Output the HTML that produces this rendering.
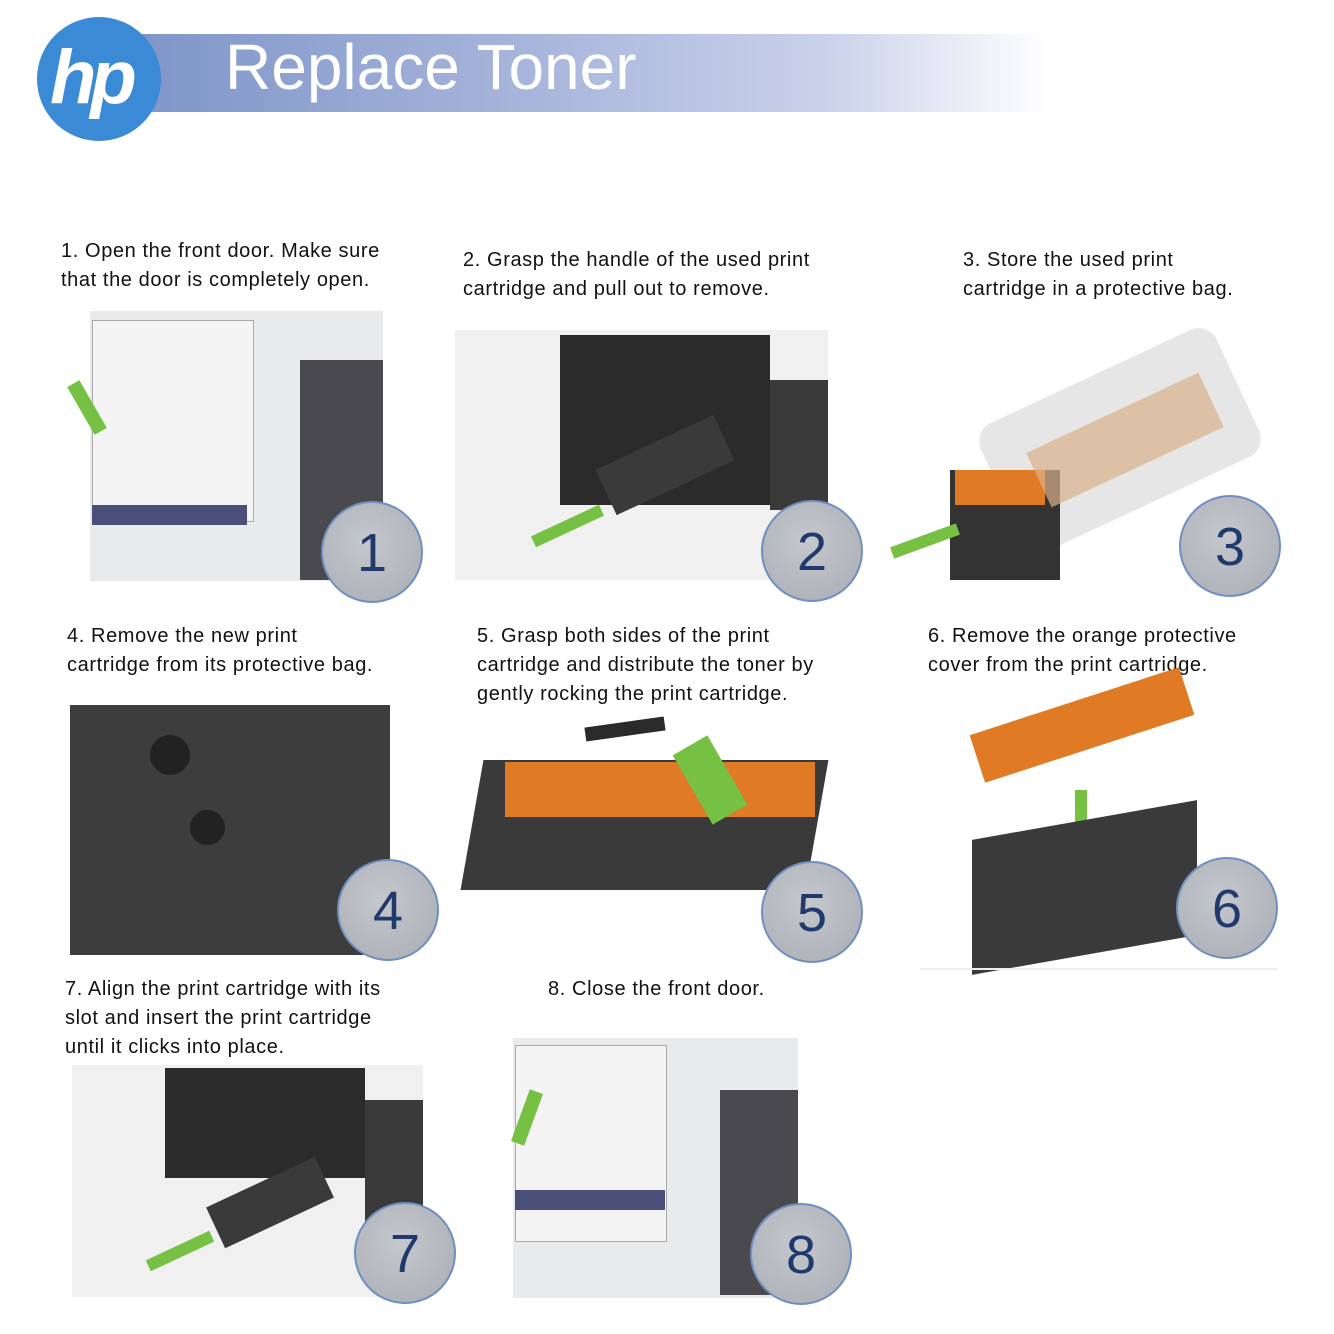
<!DOCTYPE html>
<html><head><meta charset="utf-8"><style>
body{margin:0;width:1334px;height:1334px;background:#fff;position:relative;overflow:hidden;font-family:"Liberation Sans",sans-serif}
.a{position:absolute}
.t{position:absolute;font-size:20px;letter-spacing:0.6px;line-height:29px;color:#111;white-space:nowrap}
.c{position:absolute;width:102px;height:102px;border-radius:50%;background:radial-gradient(circle at 45% 40%,#c4c7cc,#a9adb4);border:2px solid #6f8fc0;box-sizing:border-box;color:#1f3a6b;font-size:54px;text-align:center;line-height:100px}
</style></head><body>
<div class="a" style="left:140px;top:34px;width:910px;height:78px;background:linear-gradient(90deg,#7f96c8 0%,#a5b3da 40%,#c9d1ea 75%,#fff 100%)"></div>
<div class="a" style="left:225px;top:30px;font-size:64px;color:#fff;font-weight:normal">Replace Toner</div>
<div class="a" style="left:37px;top:17px;width:124px;height:124px;border-radius:50%;background:#3a8ad6"></div>
<div class="a" style="left:50px;top:34px;font-size:76px;color:#fff;font-style:italic;font-weight:bold;letter-spacing:-6px">hp</div>

<div class="t" style="left:61px;top:237px">1. Open the front door. Make sure<br>that the door is completely open.</div>
<div class="t" style="left:463px;top:246px">2. Grasp the handle of the used print<br>cartridge and pull out to remove.</div>
<div class="t" style="left:963px;top:246px">3. Store the used print<br>cartridge in a protective bag.</div>
<div class="t" style="left:67px;top:622px">4. Remove the new print<br>cartridge from its protective bag.</div>
<div class="t" style="left:477px;top:622px">5. Grasp both sides of the print<br>cartridge and distribute the toner by<br>gently rocking the print cartridge.</div>
<div class="t" style="left:928px;top:622px">6. Remove the orange protective<br>cover from the print cartridge.</div>
<div class="t" style="left:65px;top:975px">7. Align the print cartridge with its<br>slot and insert the print cartridge<br>until it clicks into place.</div>
<div class="t" style="left:548px;top:975px">8. Close the front door.</div>

<div class="a" style="left:90px;top:311px;width:293px;height:270px;background:#e9eaec"></div>
<div class="a" style="left:92px;top:320px;width:160px;height:200px;background:#f4f4f4;border:1px solid #aaa"></div>
<div class="a" style="left:300px;top:360px;width:83px;height:220px;background:#4a4a4e"></div>
<div class="a" style="left:92px;top:505px;width:155px;height:20px;background:#4a4f7a"></div>
<div class="a" style="left:80px;top:380px;width:14px;height:55px;background:#76c043;transform:rotate(-30deg)"></div>

<div class="a" style="left:455px;top:330px;width:373px;height:250px;background:#f0f0f0"></div>
<div class="a" style="left:560px;top:335px;width:210px;height:170px;background:#2b2b2b"></div>
<div class="a" style="left:770px;top:380px;width:58px;height:130px;background:#3a3a3a"></div>
<div class="a" style="left:600px;top:440px;width:130px;height:50px;background:#3a3a3a;transform:rotate(-25deg)"></div>
<div class="a" style="left:530px;top:520px;width:75px;height:12px;background:#76c043;transform:rotate(-25deg)"></div>

<div class="a" style="left:990px;top:370px;width:260px;height:140px;background:#e6e6e6;transform:rotate(-25deg);border-radius:20px"></div>
<div class="a" style="left:950px;top:470px;width:110px;height:110px;background:#333"></div>
<div class="a" style="left:955px;top:470px;width:90px;height:35px;background:#e07a25"></div>
<div class="a" style="left:1030px;top:410px;width:190px;height:60px;background:#d9b08a;transform:rotate(-25deg);opacity:.7"></div>
<div class="a" style="left:890px;top:535px;width:70px;height:12px;background:#76c043;transform:rotate(-20deg)"></div>

<div class="a" style="left:70px;top:705px;width:320px;height:250px;background:#3d3d3d"></div>
<div class="a" style="left:150px;top:735px;width:40px;height:40px;border-radius:50%;background:#222"></div>
<div class="a" style="left:190px;top:810px;width:35px;height:35px;border-radius:50%;background:#222"></div>

<div class="a" style="left:472px;top:760px;width:345px;height:130px;background:#3a3a3a;transform:skewX(-10deg)"></div>
<div class="a" style="left:505px;top:762px;width:310px;height:55px;background:#e07a25"></div>
<div class="a" style="left:585px;top:722px;width:80px;height:14px;background:#2a2a2a;transform:rotate(-8deg)"></div>
<div class="a" style="left:690px;top:740px;width:40px;height:80px;background:#76c043;transform:rotate(-30deg)"></div>

<div class="a" style="left:972px;top:700px;width:220px;height:50px;background:#e07a25;transform:rotate(-18deg)"></div>
<div class="a" style="left:1075px;top:790px;width:12px;height:40px;background:#76c043"></div>
<div class="a" style="left:972px;top:820px;width:225px;height:135px;background:#3a3a3a;transform:skewY(-10deg)"></div>
<div class="a" style="left:920px;top:968px;width:358px;height:2px;background:#eee"></div>

<div class="a" style="left:72px;top:1065px;width:351px;height:232px;background:#f0f0f0"></div>
<div class="a" style="left:165px;top:1068px;width:200px;height:110px;background:#2b2b2b"></div>
<div class="a" style="left:365px;top:1100px;width:58px;height:130px;background:#3a3a3a"></div>
<div class="a" style="left:210px;top:1180px;width:120px;height:45px;background:#3a3a3a;transform:rotate(-25deg)"></div>
<div class="a" style="left:145px;top:1245px;width:70px;height:12px;background:#76c043;transform:rotate(-25deg)"></div>

<div class="a" style="left:513px;top:1038px;width:285px;height:260px;background:#e9eaec"></div>
<div class="a" style="left:515px;top:1045px;width:150px;height:195px;background:#f4f4f4;border:1px solid #aaa"></div>
<div class="a" style="left:720px;top:1090px;width:78px;height:205px;background:#4a4a4e"></div>
<div class="a" style="left:515px;top:1190px;width:150px;height:20px;background:#4a4f7a"></div>
<div class="a" style="left:520px;top:1090px;width:14px;height:55px;background:#76c043;transform:rotate(20deg)"></div>

<div class="c" style="left:321px;top:501px">1</div>
<div class="c" style="left:761px;top:500px">2</div>
<div class="c" style="left:1179px;top:495px">3</div>
<div class="c" style="left:337px;top:859px">4</div>
<div class="c" style="left:761px;top:861px">5</div>
<div class="c" style="left:1176px;top:857px">6</div>
<div class="c" style="left:354px;top:1202px">7</div>
<div class="c" style="left:750px;top:1203px">8</div>
</body></html>
